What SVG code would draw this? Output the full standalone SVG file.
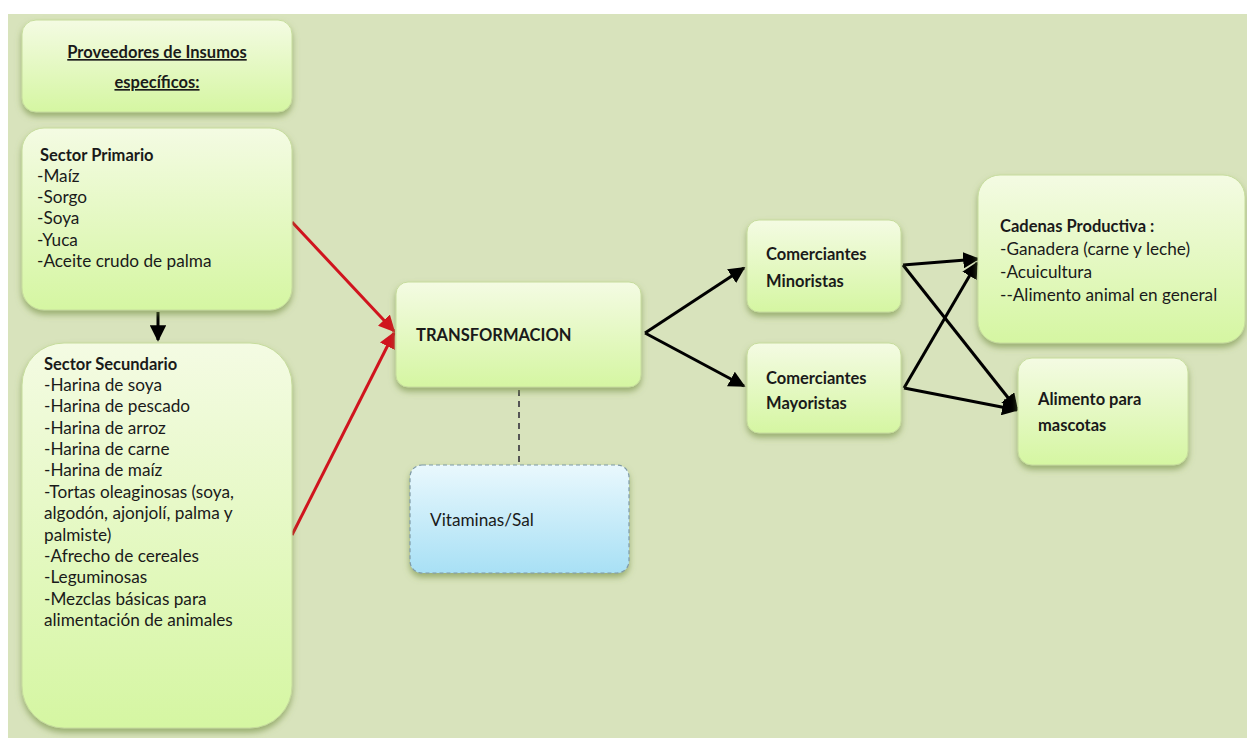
<svg xmlns="http://www.w3.org/2000/svg" width="1247" height="738" viewBox="0 0 1247 738">
<defs>
<linearGradient id="gGreen" x1="0" y1="0" x2="0" y2="1">
<stop offset="0" stop-color="#f4fbe3"/>
<stop offset="1" stop-color="#d5f6a2"/>
</linearGradient>
<linearGradient id="gBlue" x1="0" y1="0" x2="0" y2="1">
<stop offset="0" stop-color="#e9f8fd"/>
<stop offset="1" stop-color="#a8e0f5"/>
</linearGradient>
<filter id="sh" x="-10%" y="-10%" width="120%" height="130%">
<feDropShadow dx="0" dy="4" stdDeviation="3" flood-color="#6e8a3c" flood-opacity="0.6"/>
</filter>
<marker id="ar" viewBox="0 0 10 10" refX="9" refY="5" markerWidth="5.5" markerHeight="5.5" orient="auto" markerUnits="strokeWidth">
<path d="M0,0 L10,5 L0,10 z" fill="#000"/>
</marker>
<marker id="arR" viewBox="0 0 10 10" refX="9" refY="5" markerWidth="5.5" markerHeight="5.5" orient="auto" markerUnits="strokeWidth">
<path d="M0,0 L10,5 L0,10 z" fill="#d0141e"/>
</marker>
</defs>
<style>
.box{fill:url(#gGreen);stroke:#c6dc9c;stroke-width:1;filter:url(#sh)}
.t{font-family:Lato,"Open Sans",sans-serif;font-size:17.2px;fill:#1a1a1a}
.b{font-weight:bold;font-size:16.5px}
.blk{stroke:#000;stroke-width:3;fill:none;marker-end:url(#ar)}
.red{stroke:#d0141e;stroke-width:3;fill:none;marker-end:url(#arR)}
</style>
<rect x="0" y="0" width="1247" height="738" fill="#ffffff"/>
<rect x="8" y="14" width="1239" height="724" fill="#d8e3bc"/>

<g id="connectors">
<line class="red" x1="292" y1="222" x2="394" y2="331"/>
<line class="red" x1="292" y1="535" x2="394" y2="333"/>
<line class="blk" x1="158" y1="312" x2="158" y2="340"/>
<line class="blk" x1="645" y1="333" x2="744" y2="268"/>
<line class="blk" x1="645" y1="333" x2="744" y2="386"/>
<line class="blk" x1="903" y1="265" x2="978" y2="259"/>
<line class="blk" x1="903" y1="265" x2="1017" y2="409"/>
<line class="blk" x1="904" y1="388" x2="977" y2="263"/>
<line class="blk" x1="904" y1="388" x2="1017" y2="410"/>
<line x1="519" y1="390" x2="519" y2="465" stroke="#555" stroke-width="2" stroke-dasharray="6,5"/>
</g>

<g id="proveedores">
<rect class="box" x="22" y="20" width="270" height="92" rx="14"/>
<text class="t b" x="157" y="58" text-anchor="middle" text-decoration="underline">Proveedores de Insumos</text>
<text class="t b" x="157" y="88" text-anchor="middle" text-decoration="underline">específicos:</text>
</g>

<g id="sector-primario">
<rect class="box" x="22" y="128" width="270" height="182" rx="22"/>
<text class="t b" x="40" y="161">Sector Primario</text>
<text class="t" x="37" y="182">-Maíz</text>
<text class="t" x="37" y="203">-Sorgo</text>
<text class="t" x="37" y="224">-Soya</text>
<text class="t" x="37" y="246">-Yuca</text>
<text class="t" x="37" y="267">-Aceite crudo de palma</text>
</g>

<g id="sector-secundario">
<rect class="box" x="22" y="343" width="270" height="385" rx="42"/>
<text class="t b" x="44" y="370">Sector Secundario</text>
<text class="t" x="44" y="391">-Harina de soya</text>
<text class="t" x="44" y="412">-Harina de pescado</text>
<text class="t" x="44" y="434">-Harina de arroz</text>
<text class="t" x="44" y="455">-Harina de carne</text>
<text class="t" x="44" y="476">-Harina de maíz</text>
<text class="t" x="44" y="498">-Tortas oleaginosas (soya,</text>
<text class="t" x="44" y="519">algodón, ajonjolí, palma y</text>
<text class="t" x="44" y="541">palmiste)</text>
<text class="t" x="44" y="562">-Afrecho de cereales</text>
<text class="t" x="44" y="583">-Leguminosas</text>
<text class="t" x="44" y="605">-Mezclas básicas para</text>
<text class="t" x="44" y="626">alimentación de animales</text>
</g>

<g id="transformacion">
<rect class="box" x="396" y="282" width="245" height="105" rx="12"/>
<text class="t b" x="416" y="341">TRANSFORMACION</text>
</g>

<g id="vitaminas">
<rect x="410" y="465" width="219" height="108" rx="12" fill="url(#gBlue)" stroke="#7f9aa6" stroke-width="1.2" stroke-dasharray="4,3" filter="url(#sh)"/>
<text class="t" x="430" y="526">Vitaminas/Sal</text>
</g>

<g id="minoristas">
<rect class="box" x="747" y="220" width="154" height="92" rx="12"/>
<text class="t b" x="766" y="260">Comerciantes</text>
<text class="t b" x="766" y="287">Minoristas</text>
</g>

<g id="mayoristas">
<rect class="box" x="747" y="343" width="154" height="90" rx="12"/>
<text class="t b" x="766" y="384">Comerciantes</text>
<text class="t b" x="766" y="409">Mayoristas</text>
</g>

<g id="cadenas">
<rect class="box" x="978" y="175" width="267" height="168" rx="22"/>
<text class="t b" x="1000" y="232">Cadenas Productiva :</text>
<text class="t" x="1000" y="255">-Ganadera (carne y leche)</text>
<text class="t" x="1000" y="278">-Acuicultura</text>
<text class="t" x="1000" y="301">--Alimento animal en general</text>
</g>

<g id="mascotas">
<rect class="box" x="1018" y="358" width="170" height="107" rx="14"/>
<text class="t b" x="1038" y="405">Alimento para</text>
<text class="t b" x="1038" y="431">mascotas</text>
</g>
</svg>
